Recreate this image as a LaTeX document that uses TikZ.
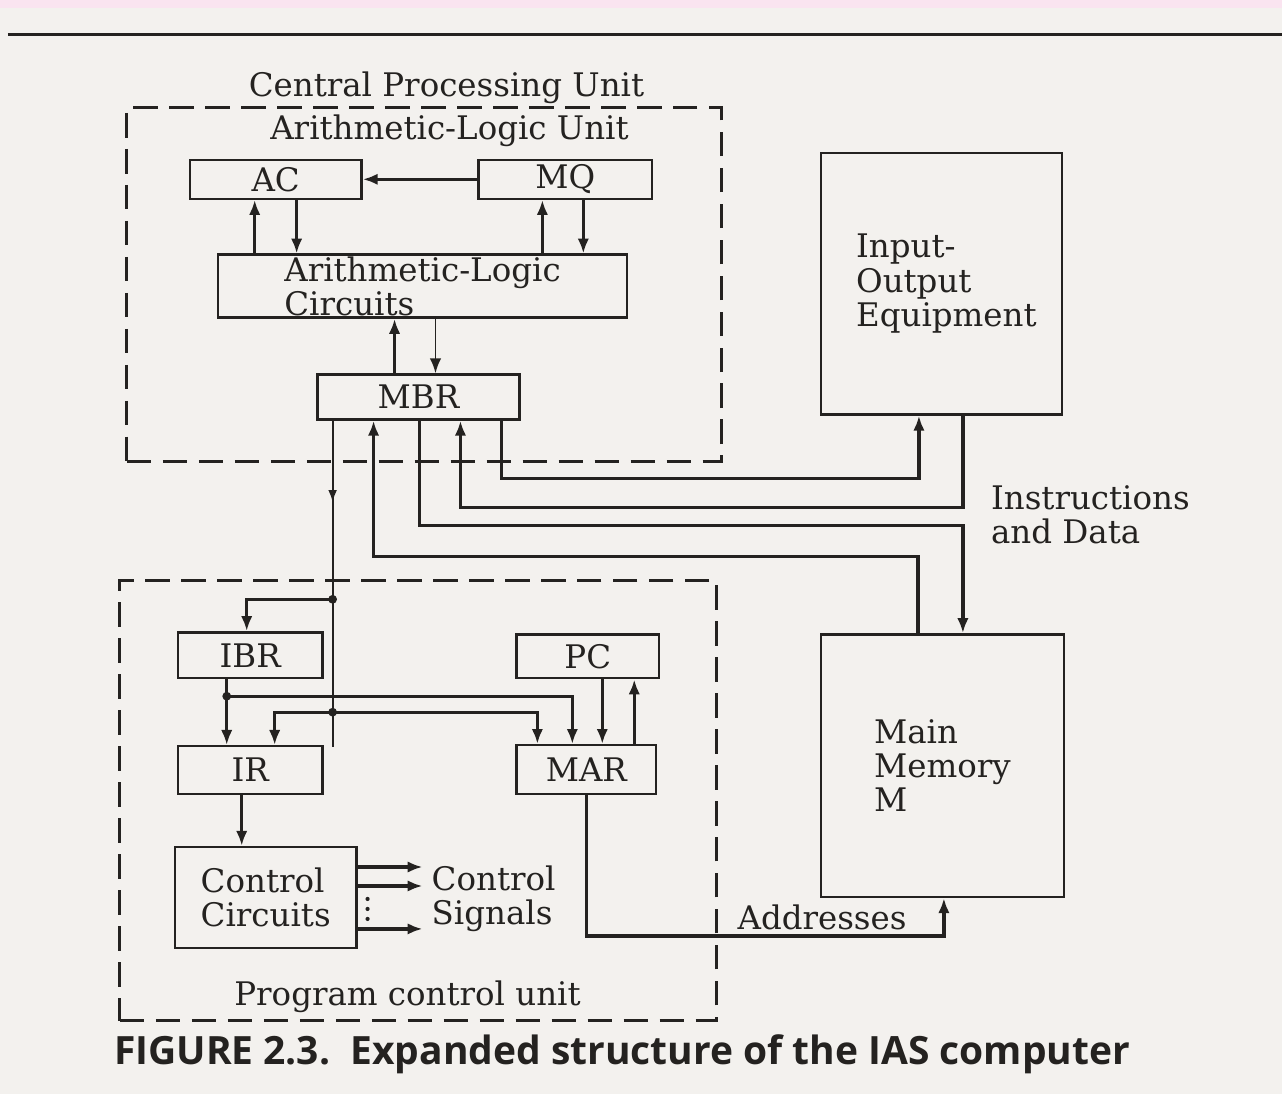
\documentclass[tikz,border=0pt]{standalone}
\usepackage{fontspec}
\setmainfont{DejaVu Serif}
\newfontfamily\capfont{Open Sans}
\usetikzlibrary{arrows.meta,positioning,calc,decorations.markings}
\definecolor{ink}{RGB}{36,34,32}
\definecolor{paper}{RGB}{243,241,238}
\definecolor{strip}{RGB}{250,228,240}

\begin{document}
\begin{tikzpicture}[x=0.02cm, y=-0.02cm, font=\fontsize{18.5}{19.5}\selectfont, every node/.style={text=ink}]
    \tikzstyle{reg} = [rectangle, draw=ink, line width=1.4pt, inner sep=0pt, align=center]
    \tikzstyle{unit} = [rectangle, draw=ink, line width=1.7pt, dash pattern=on 14pt off 6.5pt, inner sep=0pt]
    \tikzstyle{arrow} = [draw=ink, line width=1.9pt, -{Latex[length=8.5pt, width=6.5pt]}]
    \tikzstyle{fine} = [draw=ink, line width=1.1pt]
    \tikzstyle{joint} = [circle, fill=ink, inner sep=0pt, minimum size=5pt]

    % page
    \fill[paper] (0,0) rectangle (1283,1095);
    \fill[strip] (0,0) rectangle (1283,8);
    \draw[ink, line width=1.7pt] (8,35) -- (1283,35);

    % dashed units
    \node[unit, minimum width=11.9cm, minimum height=7.08cm] (cpu) at (424.5,285) {};
    \node[unit, minimum width=11.94cm, minimum height=8.82cm] (pcu) at (418.5,801.5) {};
    \node (cpulabel) at (447,88) {Central Processing Unit};
    \node (alulabel) at (450,131) {Arithmetic-Logic Unit};
    \node (pculabel) at (408,998) {Program control unit};

    % registers
    \node[reg, minimum width=3.44cm, minimum height=0.78cm] (ac) at (276,179.5) {AC};
    \node[reg, minimum width=3.48cm, minimum height=0.78cm] (mq) at (566,179.5) {MQ};
    \node[reg, minimum width=8.2cm, minimum height=1.26cm, align=left] (alc) at (423,286.5) {Arithmetic-Logic\\Circuits};
    \node[reg, minimum width=4.82cm, minimum height=5.24cm, align=left] (io) at (942.5,284) {\hspace*{0.2cm}Input-\\\hspace*{0.2cm}Output\\\hspace*{0.2cm}Equipment};
    \node[reg, minimum width=4.04cm, minimum height=0.9cm] (mbr) at (419,397.5) {MBR};
    \node[reg, minimum width=4.86cm, minimum height=5.26cm, align=left] (mem) at (943.5,766.5) {Main\\Memory\\M};
    \node[reg, minimum width=2.9cm, minimum height=0.92cm] (ibr) at (250.5,656) {IBR};
    \node[reg, minimum width=2.86cm, minimum height=0.88cm] (pc) at (588.5,657) {PC};
    \node[reg, minimum width=2.9cm, minimum height=0.96cm] (ir) at (250.5,771) {IR};
    \node[reg, minimum width=2.8cm, minimum height=0.98cm] (mar) at (587,770.5) {MAR};
    \node[reg, minimum width=3.64cm, minimum height=2.02cm, align=left] (cc) at (266,898.5) {Control\\Circuits};

    \node[align=left, anchor=west] (idlabel) at (986,515) {Instructions\\and Data};
    \node[align=left, anchor=west] (cslabel) at (426,900) {Control\\Signals};
    \node (addrlabel) at (823,918) {Addresses};

    % arithmetic-logic unit
    \draw[arrow] (mq) -- (ac);
    \draw[arrow] (255,0 |- alc.north) -- (255,0 |- ac.south);
    \draw[arrow] (297,0 |- ac.south) -- (297,0 |- alc.north);
    \draw[arrow] (543,0 |- alc.north) -- (543,0 |- mq.south);
    \draw[arrow] (584,0 |- mq.south) -- (584,0 |- alc.north);
    \draw[arrow] (395,0 |- mbr.north) -- (395,0 |- alc.south);
    \draw[arrow, line width=1.1pt] (436,0 |- alc.south) -- (436,0 |- mbr.north);

    % instructions and data
    \draw[arrow] (502,0 |- mbr.south) |- (920,479) -- (920,0 |- io.south);
    \draw[arrow] (964,0 |- io.south) |- (461,508) -- (461,0 |- mbr.south);
    \draw[arrow] (420,0 |- mbr.south) |- (964,526) -- (964,0 |- mem.north);
    \draw[arrow] (919,0 |- mem.north) |- (374,557) -- (374,0 |- mbr.south);

    % program control unit
    \draw[fine, postaction={decorate}, decoration={markings, mark=at position 0.25 with {\arrow{Latex[length=7pt, width=5pt]}}}] (333,0 |- mbr.south) -- (333,748);
    \node[joint] (jibr) at (333,600) {};
    \node[joint] (jir) at (333,713) {};
    \node[joint] (jbuf) at (227,697) {};
    \draw[arrow] (jibr.center) -| (247,0 |- ibr.north);
    \draw[arrow] (jir.center) -| (275,0 |- ir.north);
    \draw[arrow] (jir.center) -| (538,0 |- mar.north);
    \draw[arrow] (227,0 |- ibr.south) -- (227,0 |- ir.north);
    \draw[arrow] (jbuf.center) -| (573,0 |- mar.north);
    \draw[arrow] (603,0 |- pc.south) -- (603,0 |- mar.north);
    \draw[arrow] (635,0 |- mar.north) -- (635,0 |- pc.south);
    \draw[arrow] (242,0 |- ir.south) -- (242,0 |- cc.north);

    % control signals
    \foreach \y in {868,887,930} {
        \coordinate (sig\y) at (423,\y);
        \draw[arrow] (cc.east |- sig\y) -- (sig\y);
    }
    \foreach \y in {900,910,920} \fill[ink] (368,\y) circle (1.2pt);

    % addresses
    \draw[arrow] (587,0 |- mar.south) |- (945,937) -- (945,0 |- mem.south);

    \node[anchor=west, font=\capfont\bfseries\fontsize{22.2}{24}\selectfont] (caption) at (108,1055) {FIGURE 2.3.\ \ Expanded structure of the IAS computer};
\end{tikzpicture}
\end{document}
